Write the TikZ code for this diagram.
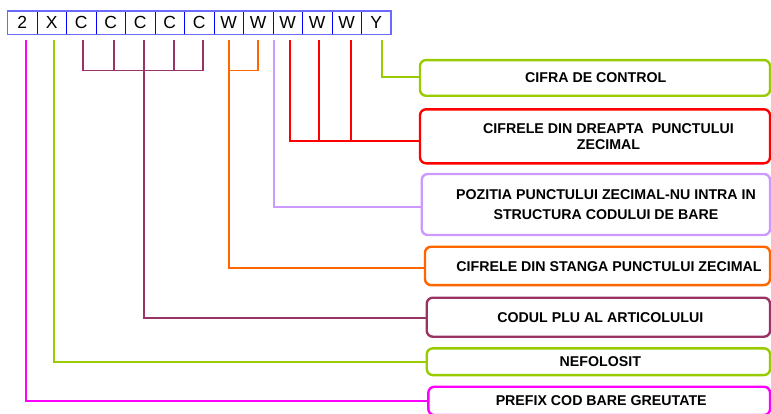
\documentclass[tikz,border=0pt]{standalone}
\usepackage{fontspec}
\setmainfont{Liberation Sans}
\usetikzlibrary{calc}
\definecolor{cgreen}{HTML}{99CC00}
\definecolor{cred}{HTML}{FF0000}
\definecolor{clav}{HTML}{CC99FF}
\definecolor{corange}{HTML}{FF6600}
\definecolor{cplum}{HTML}{993366}
\definecolor{cmag}{HTML}{FF00FF}
\definecolor{cblue}{HTML}{0000FF}
\definecolor{cblueo}{HTML}{6A6AFF}
\tikzset{
  cell/.style={draw=cblue, line width=0.8pt, minimum width=29.5pt, minimum height=23.7pt, inner sep=0pt, outer sep=0pt, font=\fontsize{17.5}{20}\selectfont},
  infobox/.style={draw=#1, line width=2.4pt, rounded corners=6pt, inner sep=0pt, outer sep=0pt},
  infotext/.style={font=\fontsize{14.2}{15.3}\selectfont\bfseries, align=center, inner sep=0pt},
  conn/.style={draw=#1, line width=1.7pt},
}
\begin{document}
\begin{tikzpicture}[x=1pt,y=-1pt]
\useasboundingbox (0,0) rectangle (771,413);
% cells
\foreach \t [count=\i from 0] in {2,X,C,C,C,C,C,W,W,W,W,W,Y} {
  \node[cell] (c\i) at ({7.5+29.5*(\i+0.5)},22.85) {\t};
}
\draw[cblueo, line width=1.4pt] (c0.north west) rectangle (c12.south east);

% boxes
\node[infobox=cgreen, minimum width=350pt, minimum height=35.7pt] (bY) at (595,77.9) {};
\node[infobox=cred, minimum width=350pt, minimum height=54pt] (bR) at (595,136.3) {};
\node[infobox=clav, minimum width=348.3pt, minimum height=61pt] (bL) at (595.9,204.5) {};
\node[infobox=corange, minimum width=345pt, minimum height=38.3pt] (bO) at (597.5,265.9) {};
\node[infobox=cplum, minimum width=343.3pt, minimum height=39pt] (bP) at (598.4,317.2) {};
\node[infobox=cgreen, minimum width=343.3pt, minimum height=26.7pt] (bX) at (598.4,361.7) {};
\node[infobox=cmag, minimum width=341.7pt, minimum height=28.3pt] (bM) at (599.2,400.9) {};

% texts
\node[infotext] (tY) at (595.8,78) {CIFRA DE CONTROL};
\node[infotext] (tR) at (608.5,136.7) {CIFRELE DIN DREAPTA\ \ PUNCTULUI\\ZECIMAL};
\node[infotext] (tL) at (606,205) {POZITIA PUNCTULUI ZECIMAL-NU INTRA IN\\[4.7pt]STRUCTURA CODULUI DE BARE};
\node[infotext] (tO) at (609,266.7) {CIFRELE DIN STANGA PUNCTULUI ZECIMAL};
\node[infotext] (tP) at (600.3,317.3) {CODUL PLU AL ARTICOLULUI};
\node[infotext] (tX) at (600.3,361.2) {NEFOLOSIT};
\node[infotext] (tM) at (601.2,401) {PREFIX COD BARE GREUTATE};

% connector start points
\coordinate (m0) at (26,40);
\coordinate (g0) at (54.3,40);
\coordinate (p1) at (82.7,40);
\coordinate (p2) at (113.7,40);
\coordinate (p3) at (144.3,40);
\coordinate (p4) at (174.3,40);
\coordinate (p5) at (202.7,40);
\coordinate (o1) at (229.3,40);
\coordinate (o2) at (257.7,40);
\coordinate (l1) at (274,40);
\coordinate (r1) at (290,40);
\coordinate (r2) at (318.7,40);
\coordinate (r3) at (351,40);
\coordinate (y1) at (381.7,40);
\coordinate (pj) at (144.3,70.5);
\coordinate (oj) at (229.3,70.5);
\coordinate (rj) at (290,140.7);

% connectors
\draw[conn=cgreen] (y1) |- ([yshift=0.9pt]bY.west);
\draw[conn=cred] (r1) |- ([yshift=-4.4pt]bR.west);
\draw[conn=cred] (r2) -- (r2 |- rj);
\draw[conn=cred] (r3) -- (r3 |- rj);
\draw[conn=clav] (l1) |- ([yshift=-2.2pt]bL.west);
\draw[conn=corange] (o2) |- (oj);
\draw[conn=corange] (o1) |- ([yshift=-1.8pt]bO.west);
\draw[conn=cplum] (p1) |- (p5 |- pj) -- (p5);
\draw[conn=cplum] (p2) -- (p2 |- pj);
\draw[conn=cplum] (p4) -- (p4 |- pj);
\draw[conn=cplum] (p3) |- ([yshift=-0.5pt]bP.west);
\draw[conn=cgreen] (g0) |- ([yshift=-0.6pt]bX.west);
\draw[conn=cmag] (m0) |- (bM.west);
\end{tikzpicture}
\end{document}
